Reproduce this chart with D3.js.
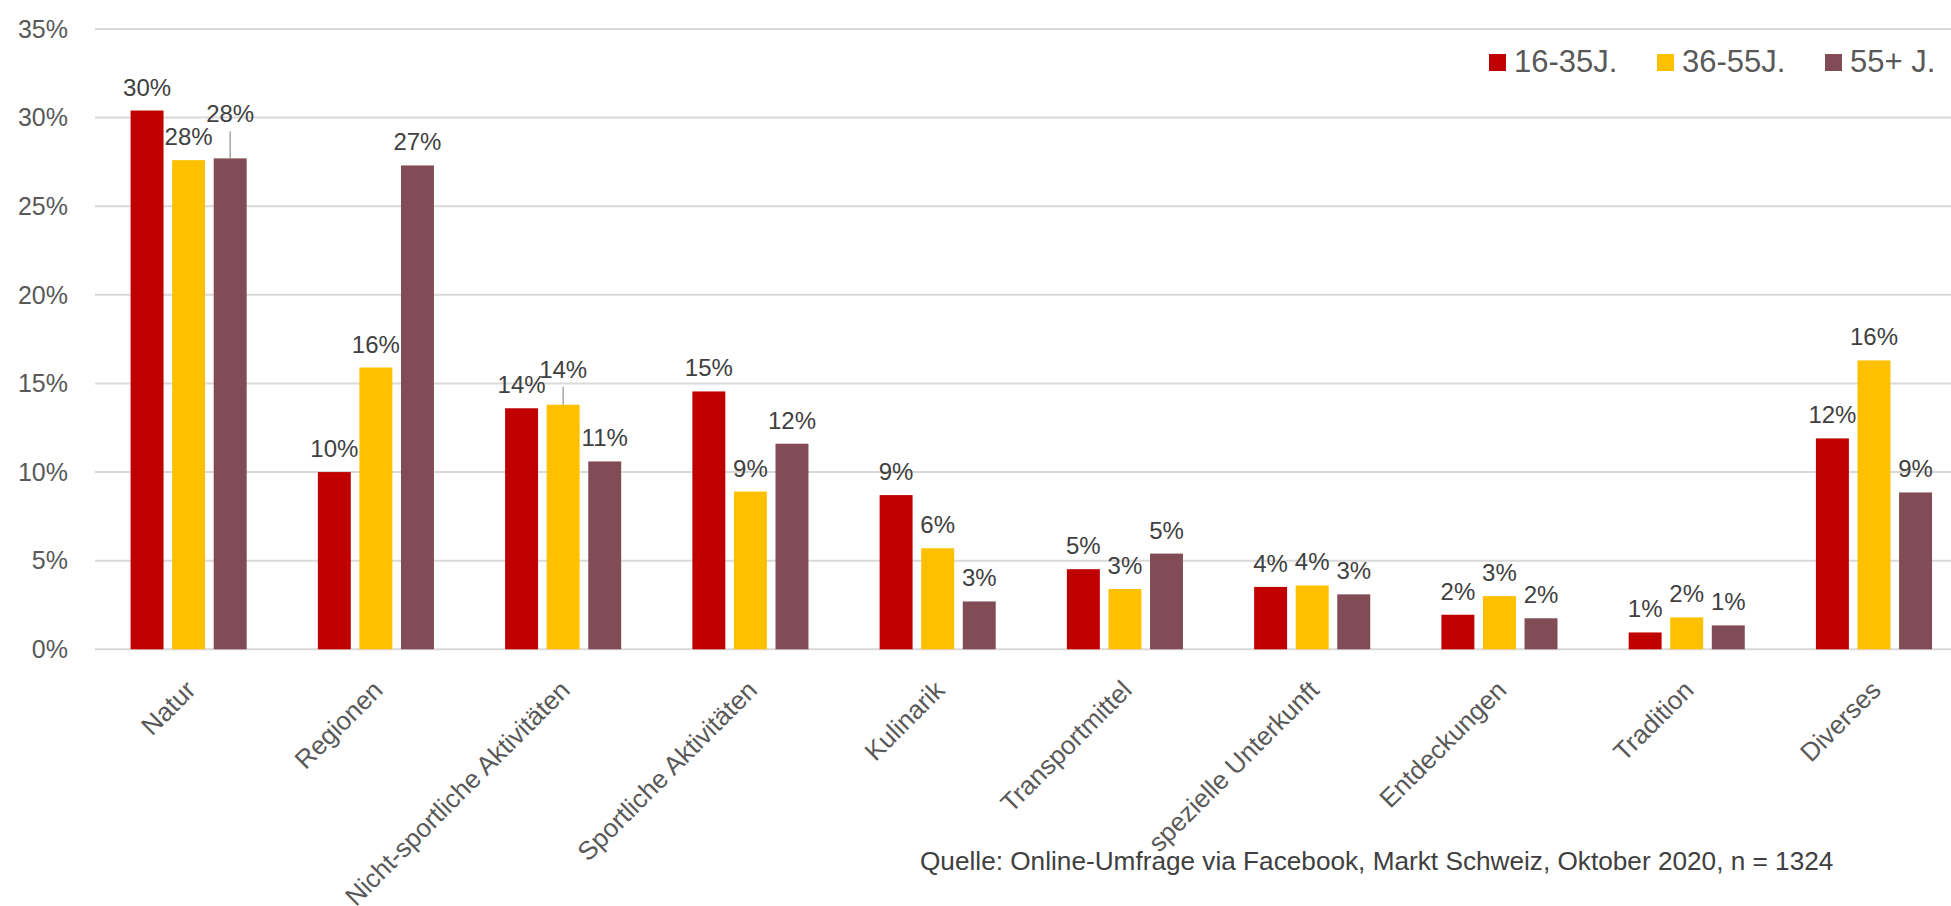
<!DOCTYPE html>
<html>
<head>
<meta charset="utf-8">
<script src="https://cdn.jsdelivr.net/npm/d3@7"></script>
<style>
  body { margin: 0; background: #fff; }
  text { font-family: "Liberation Sans", Arial, sans-serif; }
</style>
</head>
<body>
<div id="chart"></div>
<script>
const categories = ["Natur", "Regionen", "Nicht-sportliche Aktivitäten", "Sportliche Aktivitäten",
    "Kulinarik", "Transportmittel", "spezielle Unterkunft", "Entdeckungen", "Tradition", "Diverses"];
const seriesNames = ["16-35J.", "36-55J.", "55+ J."];
const values16_35 = [30.4, 10.0, 13.6, 14.55, 8.7, 4.52, 3.52, 1.95, 0.95, 11.9];
const values36_55 = [27.6, 15.9, 13.8, 8.9, 5.7, 3.4, 3.6, 3.0, 1.8, 16.3];
const values55plus = [27.7, 27.3, 10.6, 11.6, 2.7, 5.4, 3.1, 1.75, 1.35, 8.85];
const yTicks = [0, 5, 10, 15, 20, 25, 30, 35];
const sourceText = "Quelle: Online-Umfrage via Facebook, Markt Schweiz, Oktober 2020, n = 1324";

const ctx = {
    w: 1951,
    h: 906,
    colors: ["#C00000", "#FFC000", "#814C55"],
    gridColor: "#d9d9d9",
    axisText: "#595959",
    labelText: "#404040"
};

// labels Excel pushed up with a leader line
const liftedLabels = [
    { cat: "Natur", s: 2, lift: 21 },
    { cat: "Nicht-sportliche Aktivitäten", s: 1, lift: 12 }
];

function createViz() {
    const svg = d3.select("#chart").append("svg")
        .attr("width", ctx.w).attr("height", ctx.h);

    const allSeries = [values16_35, values36_55, values55plus];

    const x0 = d3.scaleBand().domain(categories)
        .range([95, 1967.6])
        .paddingInner(0.38).paddingOuter(0.19);
    const x1 = d3.scaleBand().domain(d3.range(seriesNames.length))
        .range([0, x0.bandwidth()])
        .paddingInner(0.207).paddingOuter(0);
    const y = d3.scaleLinear().domain([0, 35]).range([649.3, 29]);

    // gridlines + y labels
    const grid = svg.append("g");
    grid.selectAll("line").data(yTicks).enter().append("line")
        .attr("x1", 95).attr("x2", ctx.w)
        .attr("y1", d => y(d)).attr("y2", d => y(d))
        .attr("stroke", ctx.gridColor).attr("stroke-width", 2);
    grid.selectAll("text").data(yTicks).enter().append("text")
        .attr("x", 68).attr("y", d => y(d)).attr("dy", "0.35em")
        .attr("text-anchor", "end")
        .style("font-size", "25px").style("fill", ctx.axisText)
        .text(d => d + "%");

    // bars
    const rows = [];
    categories.forEach((c, i) => {
        allSeries.forEach((vals, s) => rows.push({ cat: c, s: s, v: vals[i] }));
    });

    svg.append("g").selectAll("rect").data(rows).enter().append("rect")
        .attr("x", d => x0(d.cat) + x1(d.s))
        .attr("y", d => y(d.v))
        .attr("width", x1.bandwidth())
        .attr("height", d => y(0) - y(d.v))
        .attr("fill", d => ctx.colors[d.s]);

    // data labels
    const lift = d => {
        const f = liftedLabels.find(l => l.cat === d.cat && l.s === d.s);
        return f ? f.lift : 0;
    };
    const labels = svg.append("g");
    labels.selectAll("line").data(rows.filter(d => lift(d) > 0)).enter().append("line")
        .attr("x1", d => x0(d.cat) + x1(d.s) + x1.bandwidth() / 2)
        .attr("x2", d => x0(d.cat) + x1(d.s) + x1.bandwidth() / 2)
        .attr("y1", d => y(d.v) - lift(d) - 6)
        .attr("y2", d => y(d.v))
        .attr("stroke", "#a6a6a6").attr("stroke-width", 1.5);
    labels.selectAll("text").data(rows).enter().append("text")
        .attr("x", d => x0(d.cat) + x1(d.s) + x1.bandwidth() / 2)
        .attr("y", d => y(d.v) - 15 - lift(d))
        .attr("text-anchor", "middle")
        .style("font-size", "24px").style("fill", ctx.labelText)
        .text(d => Math.round(d.v) + "%");

    // category labels, rotated
    svg.append("g").selectAll("text").data(categories).enter().append("text")
        .attr("transform", d => "translate(" + (x0(d) + x0.bandwidth() / 2 + 2) + "," + (y(0) + 36) + ")rotate(-45)")
        .attr("text-anchor", "end").attr("dy", "0.35em")
        .style("font-size", "26px").style("fill", ctx.axisText)
        .text(d => d);

    // legend
    const legend = svg.append("g").attr("transform", "translate(1489,54)");
    const item = legend.selectAll("g").data(seriesNames).enter().append("g")
        .attr("transform", (d, i) => "translate(" + (i * 168) + ",0)");
    item.append("rect").attr("width", 17).attr("height", 17)
        .attr("fill", (d, i) => ctx.colors[i]);
    item.append("text").attr("x", 25).attr("y", 18)
        .style("font-size", "31px").style("fill", ctx.axisText)
        .text(d => d);

    // source
    svg.append("text")
        .attr("x", 920).attr("y", 870)
        .style("font-size", "26.2px").style("fill", ctx.labelText)
        .text(sourceText);
}

createViz();
</script>
</body>
</html>
